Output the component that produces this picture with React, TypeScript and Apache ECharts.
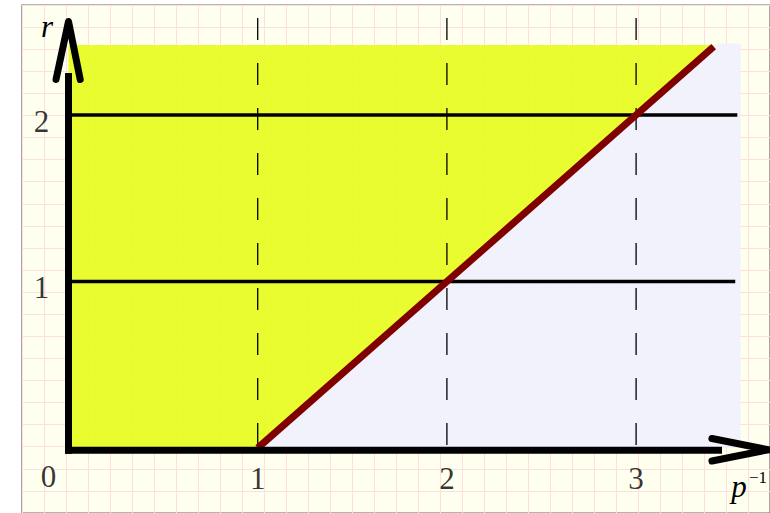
import { useEffect, useRef } from 'react';
import * as echarts from 'echarts';

// Tick labels
const xTicks = [1, 2, 3];
const yTicks = [1, 2];
const originTick = 0;

// Region above the boundary r = p^-1 - 1 and region below it
const upperRegion = [[0, 0], [1, 0], [3.42, 2.42], [0, 2.42]];
const lowerRegion = [[1, 0], [3.553, 0], [3.553, 2.43], [3.43, 2.43]];

// Boundary line r = p^-1 - 1
const boundary = [[1, 0], [3.41, 2.41]];

// Horizontal levels r = 1, 2 and where they stop
const levelValues = [1, 2];
const levelEnds = [3.524, 3.535];

// Dashed verticals at p^-1 = 1, 2, 3
const dashX = [1, 2, 3];
const dashTop = 2.583;

// Axis strokes and arrow heads
const xAxisStroke = [[-0.0185, -0.0138], [3.454, -0.0138]];
const yAxisStroke = [[0, -0.035], [0, 2.252]];
const xArrowHead = [[3.401, 0.057], [3.7, -0.0105], [3.401, -0.078]];
const yArrowHead = [[-0.066, 2.213], [0, 2.562], [0.062, 2.213]];

const SERIF = '"Liberation Serif", "DejaVu Serif", serif';

// Plot scale: 189.2 px per unit of p^-1, 166.5 px per unit of r, origin at (68.5, 448)
const X_MIN = -0.3;
const X_MAX = 3.705;
const Y_MIN = -0.2;
const Y_MAX = 2.65;
const PX_X = 189.2;
const PX_Y = 166.5;
const ORIGIN = [68.5, 448];

function polygonSeries(points: number[][], fill: string) {
  return {
    type: 'custom',
    xAxisIndex: 0,
    yAxisIndex: 0,
    silent: true,
    clip: false,
    z: 1,
    data: [[0, 0]],
    renderItem: (_params: any, api: any) => ({
      type: 'polygon',
      shape: { points: points.map((p) => api.coord(p)) },
      style: { fill, opacity: 0.92 },
    }),
  };
}

function lineSeries(data: number[][], lineStyle: any, z = 3) {
  return {
    type: 'line',
    xAxisIndex: 0,
    yAxisIndex: 0,
    data,
    symbol: 'none',
    silent: true,
    clip: false,
    z,
    lineStyle,
  };
}

function labelSeries(points: { value: number[]; text: string; offset: number[] }[]) {
  return {
    type: 'scatter',
    xAxisIndex: 0,
    yAxisIndex: 0,
    silent: true,
    clip: false,
    z: 6,
    symbolSize: 0,
    data: points.map((p) => ({
      value: p.value,
      label: {
        show: true,
        position: 'inside',
        formatter: p.text,
        offset: p.offset,
        color: '#000',
        fontFamily: SERIF,
        fontSize: 31,
        align: 'center',
        verticalAlign: 'middle',
      },
    })),
  };
}

export default function App() {
  const ref = useRef<HTMLDivElement>(null);

  useEffect(() => {
    if (!ref.current) return;
    const chart = echarts.init(ref.current, undefined, { renderer: 'svg' });

    const labels = [
      ...xTicks.map((t) => ({ value: [t, 0], text: String(t), offset: [0, 30] })),
      ...yTicks.map((t) => ({ value: [0, t], text: String(t), offset: [-27, 6] })),
      { value: [0, 0], text: String(originTick), offset: [-20, 28.5] },
    ];

    chart.setOption({
      animation: false,
      grid: [
        {
          left: ORIGIN[0] + X_MIN * PX_X,
          top: ORIGIN[1] - Y_MAX * PX_Y,
          width: (X_MAX - X_MIN) * PX_X,
          height: (Y_MAX - Y_MIN) * PX_Y,
          show: false,
        },
        {
          left: 22,
          top: 5,
          width: 770.1,
          height: 520.95,
          show: true,
          backgroundColor: '#fffff0',
          borderColor: '#6a6a6a',
          borderWidth: 1.2,
        },
      ],
      xAxis: [
        { type: 'value', gridIndex: 0, min: X_MIN, max: X_MAX, show: false },
        {
          type: 'value',
          gridIndex: 1,
          min: 0,
          max: 34,
          interval: 1,
          axisLine: { show: false },
          axisTick: { show: false },
          axisLabel: { show: false },
          splitLine: { show: true, lineStyle: { color: '#ffdede', width: 1 } },
        },
      ],
      yAxis: [
        { type: 'value', gridIndex: 0, min: Y_MIN, max: Y_MAX, show: false },
        {
          type: 'value',
          gridIndex: 1,
          min: 0,
          max: 23,
          interval: 1,
          inverse: true,
          axisLine: { show: false },
          axisTick: { show: false },
          axisLabel: { show: false },
          splitLine: { show: true, lineStyle: { color: '#ffdede', width: 1 } },
        },
      ],
      graphic: [
        {
          type: 'text',
          x: 47,
          y: 26.6,
          z: 10,
          style: {
            text: 'r',
            fontFamily: SERIF,
            fontStyle: 'italic',
            fontSize: 31,
            fill: '#000',
            align: 'center',
            verticalAlign: 'middle',
          },
        },
        {
          type: 'text',
          x: 739,
          y: 486,
          z: 10,
          style: {
            text: 'p',
            fontFamily: SERIF,
            fontStyle: 'italic',
            fontSize: 31,
            fill: '#000',
            align: 'center',
            verticalAlign: 'middle',
          },
        },
        {
          type: 'text',
          x: 758,
          y: 477,
          z: 10,
          style: {
            text: '\u22121',
            fontFamily: SERIF,
            fontSize: 17,
            fill: '#000',
            align: 'center',
            verticalAlign: 'middle',
          },
        },
      ],
      series: [
        { type: 'line', xAxisIndex: 1, yAxisIndex: 1, data: [], silent: true },
        polygonSeries(upperRegion, '#e6fc1f'),
        polygonSeries(lowerRegion, '#f1f1fd'),
        ...dashX.map((x) =>
          lineSeries(
            [[x, dashTop], [x, 0]],
            { color: '#000', width: 1.3, type: [22, 23] },
            2
          )
        ),
        ...levelValues.map((r, i) =>
          lineSeries([[0, r], [levelEnds[i], r]], { color: '#000', width: 3.5 }, 3)
        ),
        lineSeries(boundary, { color: '#800000', width: 7, cap: 'butt' }, 4),
        lineSeries(xAxisStroke, { color: '#000', width: 7, cap: 'butt' }, 5),
        lineSeries(yAxisStroke, { color: '#000', width: 7, cap: 'butt' }, 5),
        lineSeries(xArrowHead, { color: '#000', width: 7, cap: 'round', join: 'round' }, 5),
        lineSeries(yArrowHead, { color: '#000', width: 7, cap: 'round', join: 'round' }, 5),
        labelSeries(labels),
      ],
    });

    return () => chart.dispose();
  }, []);

  return (
    <div
      ref={ref}
      style={{ position: 'fixed', left: 0, top: 0, width: 770, height: 513, background: '#fff' }}
    />
  );
}
